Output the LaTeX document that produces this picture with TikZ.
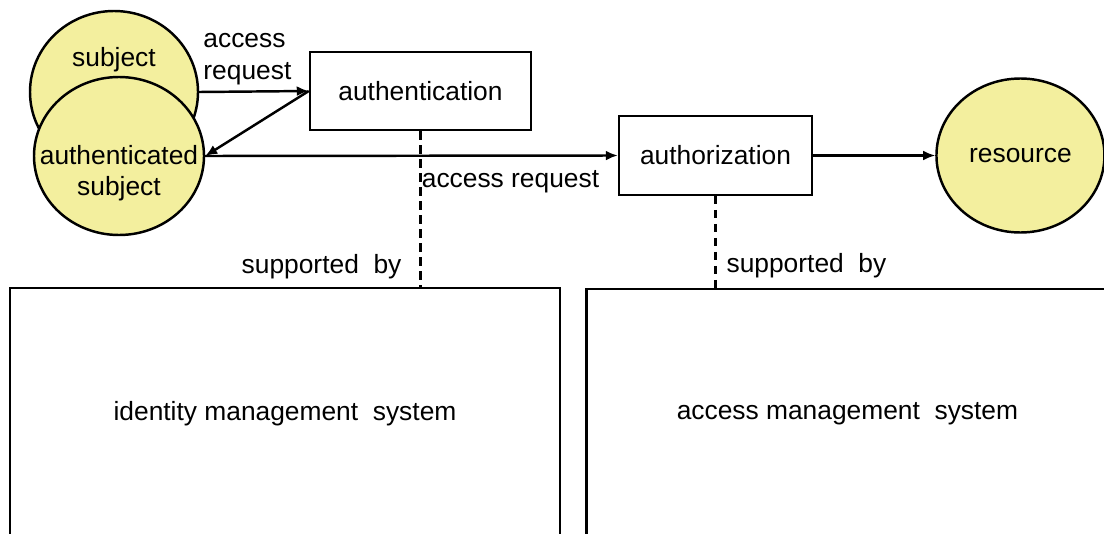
\documentclass[tikz,border=0pt]{standalone}
\usepackage{fontspec}
\setmainfont{Liberation Sans}
\usepackage{xcolor}
\usepackage{tikz}
\usetikzlibrary{shapes.geometric, arrows.meta, positioning}
\definecolor{actorfill}{RGB}{243,239,158}
\tikzset{
  actor/.style={ellipse, draw, fill=actorfill, line width=1.4pt, inner sep=0pt, align=center},
  procbox/.style={rectangle, draw, line width=1.4pt, minimum height=1.57cm, align=center},
  sysbox/.style={rectangle, draw, line width=1.4pt, minimum height=5cm, align=center},
  arr/.style={-{Latex[length=2.4mm, width=2mm]}, line width=1.4pt},
  dline/.style={line width=1.4pt, dash pattern=on 0.17cm off 0.11cm},
}

\begin{document}
\begin{tikzpicture}[font=\fontsize{15}{18}\selectfont]
  \useasboundingbox (0,0) rectangle (22.08,-10.68);

  % Subjects
  \node[actor, minimum width=3.36cm, minimum height=3.24cm, label={[yshift=0.64cm]center:subject}] (subject) at (2.28,-1.84) {};
  \node[actor, minimum width=3.4cm, minimum height=3.16cm, label={[yshift=-0.34cm, align=center]center:authenticated\\subject}] (authsubj) at (2.38,-3.12) {};

  % Checks
  \node[procbox, minimum width=4.42cm] (authn) at (8.41,-1.82) {authentication};
  \node[procbox, minimum width=3.86cm] (authz) at (14.31,-3.11) {authorization};
  \node[actor, minimum width=3.36cm, minimum height=3.08cm, right=2.44cm of authz] (res) {resource};

  % Supporting systems
  \node[sysbox, minimum width=11cm, minimum height=5.04cm] (idm) at (5.7,-8.28) {identity management\ \ system};
  \node[sysbox, minimum width=10.44cm, right=0.48cm of idm] (acm) {access management\ \ system};

  \draw[arr] (subject.east) -- node[above, pos=0.44, align=left]{access\\request} (authn.west);
  \draw[arr] (authn.west) -- (authsubj.east);
  \draw[arr] (authsubj.east) -- node[below right, pos=0.52, xshift=-0.1cm, yshift=-0.16cm]{access request} (authz.west);
  \draw[arr] (authz.east) -- (res.west);

  \draw[dline] (authn.south) -- node[left, pos=0.87, xshift=-0.24cm]{supported\ \ by} (authn.south |- idm.north);
  \draw[dline] (authz.south) -- node[right, pos=0.76, xshift=0.08cm]{supported\ \ by} (authz.south |- acm.north);
\end{tikzpicture}
\end{document}
